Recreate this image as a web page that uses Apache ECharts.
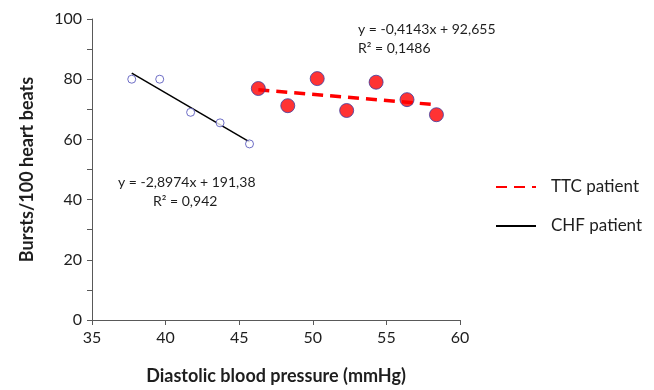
<!DOCTYPE html>
<html>
<head>
<meta charset="utf-8">
<script src="https://cdn.jsdelivr.net/npm/echarts@6/dist/echarts.min.js"></script>
<style>
  html, body { margin: 0; padding: 0; background: #fff; }
  #chart { width: 654px; height: 390px; }
</style>
</head>
<body>
<div id="chart"></div>
<script>
// data
const chfPoints = [[37.7, 80.0], [39.6, 80.0], [41.7, 69.0], [43.7, 65.5], [45.7, 58.5]];
const ttcPoints = [[46.3, 76.9], [48.3, 71.2], [50.3, 80.2], [52.3, 69.6], [54.3, 79.0], [56.4, 73.2], [58.4, 68.2]];
const chfTrend = [[37.7, 82.0], [45.7, 59.2]];
const ttcTrend = [[46.3, 76.5], [58.4, 71.5]];
const chfEquation = ['y = -2,8974x + 191,38', 'R² = 0,942'];
const ttcEquation = ['y = -0,4143x + 92,655', 'R² = 0,1486'];

const font = 'Lato, "Open Sans", sans-serif';
const txt = '#1e1e1e';

var myChart = echarts.init(document.getElementById('chart'));

var option = {
    animation: false,
    grid: { left: 92, right: 194, top: 19, bottom: 69 },
    legend: {
        orient: 'vertical',
        left: 490,
        top: 172,
        itemWidth: 40,
        itemHeight: 14,
        itemGap: 19,
        itemStyle: { opacity: 0 },
        textStyle: { fontFamily: font, fontSize: 17, lineHeight: 20, color: txt, padding: [0, 0, 0, 10] },
        data: ['TTC patient', 'CHF patient']
    },
    xAxis: {
        type: 'value',
        min: 35,
        max: 60,
        interval: 5,
        splitLine: { show: false },
        axisLine: { lineStyle: { color: '#595959', width: 1 } },
        axisTick: { inside: false, length: 5, lineStyle: { color: '#595959' } },
        axisLabel: { fontFamily: font, fontSize: 16, color: txt, margin: 10 },
        name: 'Diastolic blood pressure (mmHg)',
        nameLocation: 'middle',
        nameGap: 47,
        nameTextStyle: { fontFamily: font, fontSize: 18, fontWeight: 'bold', color: txt }
    },
    yAxis: {
        type: 'value',
        min: 0,
        max: 100,
        interval: 10,
        splitLine: { show: false },
        axisLine: { show: true, lineStyle: { color: '#595959', width: 1 } },
        axisTick: { show: true, inside: false, length: 5, lineStyle: { color: '#595959' } },
        axisLabel: {
            fontFamily: font, fontSize: 16, color: txt, margin: 10,
            formatter: function (v) { return v % 20 === 0 ? String(v) : ''; }
        },
        name: 'Bursts/100 heart beats',
        nameLocation: 'middle',
        nameGap: 56,
        nameTextStyle: { fontFamily: font, fontSize: 18, fontWeight: 'bold', color: txt }
    },
    series: [
        {
            name: 'CHF patient',
            type: 'line',
            data: chfTrend,
            showSymbol: false,
            symbol: 'none',
            lineStyle: { color: '#000', width: 1.5 },
            itemStyle: { color: '#000' },
            z: 2
        },
        {
            name: 'TTC patient',
            type: 'line',
            data: ttcTrend,
            showSymbol: false,
            symbol: 'none',
            lineStyle: { color: '#ff0000', width: 3.5, type: [11, 7] },
            itemStyle: { color: '#ff0000' },
            z: 2
        },
        {
            name: 'CHF points',
            type: 'scatter',
            data: chfPoints,
            symbol: 'circle',
            symbolSize: 8,
            itemStyle: { color: '#fff', borderColor: '#4b4bb8', borderWidth: 1 },
            z: 3
        },
        {
            name: 'TTC points',
            type: 'scatter',
            data: ttcPoints,
            symbol: 'circle',
            symbolSize: 14,
            itemStyle: { color: '#ff0000', borderColor: '#3c3ca0', borderWidth: 1 },
            z: 3
        }
    ],
    graphic: [
        { type: 'text', left: 358, top: 22, style: { text: ttcEquation[0], fontFamily: font, fontSize: 14, fill: txt } },
        { type: 'text', left: 358, top: 41, style: { text: ttcEquation[1], fontFamily: font, fontSize: 14, fill: txt } },
        { type: 'text', left: 118, top: 175, style: { text: chfEquation[0], fontFamily: font, fontSize: 14, fill: txt } },
        { type: 'text', left: 153, top: 194, style: { text: chfEquation[1], fontFamily: font, fontSize: 14, fill: txt } }
    ]
};

myChart.setOption(option);
</script>
</body>
</html>
